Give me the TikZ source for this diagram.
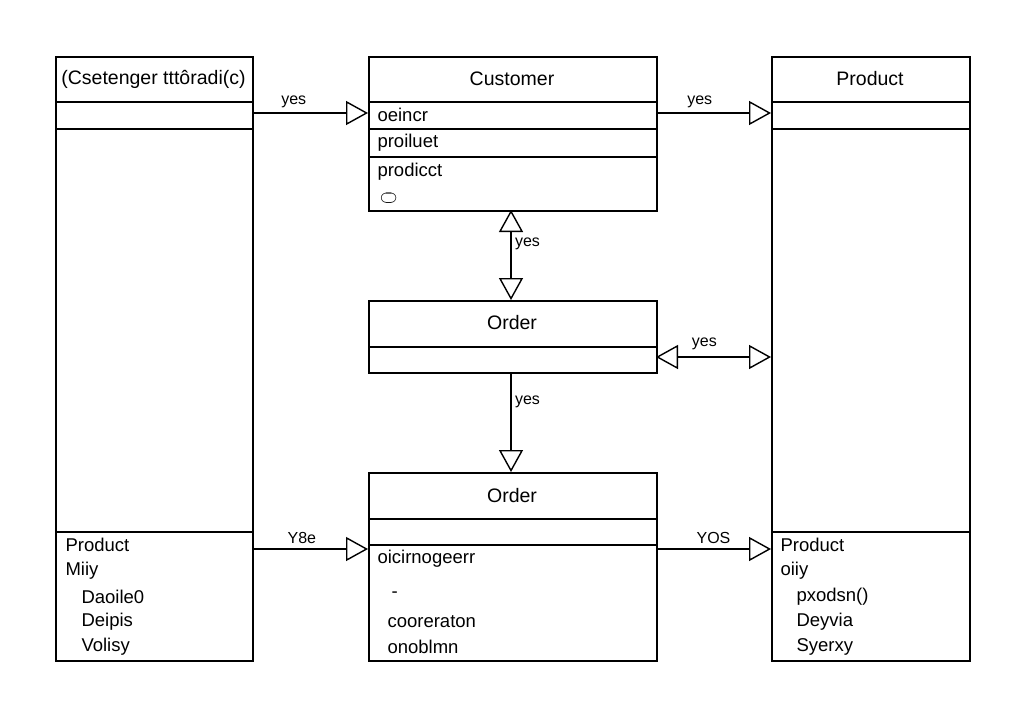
\documentclass[tikz,border=0pt]{standalone}
\usepackage{fontspec}
\setmainfont{Liberation Sans}
\usetikzlibrary{arrows.meta,positioning}

\tikzset{
  box/.style = {draw, line width = 1.6pt, rectangle, inner sep = 0pt},
  sep/.style = {line width = 1.6pt},
  link/.style = {line width = 1.4pt, -{Triangle[open, length = 22pt, width = 24pt, line width = 1.4pt]}},
  dlink/.style = {line width = 1.4pt, {Triangle[open, length = 22pt, width = 24pt, line width = 1.4pt]}-{Triangle[open, length = 22pt, width = 24pt, line width = 1.4pt]}},
  lbl/.style = {font = \fontsize{16}{18}\selectfont},
  ttl/.style = {font = \fontsize{19.5}{22}\selectfont},
  itm/.style = {font = \fontsize{18.5}{20}\selectfont, anchor = west}
}

\begin{document}
\begin{tikzpicture}[x = 1pt, y = -1pt]
\useasboundingbox (0,0) rectangle (1024,716);
% boxes
\node[box, minimum width = 197pt, minimum height = 604pt, anchor = north west] (hist) at (55,56) {};
\node[box, minimum width = 288pt, minimum height = 154pt, anchor = north west] (cust) at (368,56) {};
\node[box, minimum width = 198pt, minimum height = 604pt, anchor = north west] (prod) at (771,56) {};
\node[box, minimum width = 288pt, minimum height = 72pt, anchor = north west] (ord1) at (368,300) {};
\node[box, minimum width = 288pt, minimum height = 188pt, anchor = north west] (ord2) at (368,472) {};
% compartments
\draw[sep] (55,102) -- (252,102) (55,129) -- (252,129) (55,532) -- (252,532);
\draw[sep] (368,102) -- (656,102) (368,129) -- (656,129) (368,157) -- (656,157);
\draw[sep] (771,102) -- (969,102) (771,129) -- (969,129) (771,532) -- (969,532);
\draw[sep] (368,347) -- (656,347);
\draw[sep] (368,519) -- (656,519) (368,545) -- (656,545);
% titles
\node[ttl] (t1) at (153.5,79) {(Csetenger ttt\^oradi(c)};
\node[ttl] (t2) at (512,79) {Customer};
\node[ttl] (t3) at (870,79) {Product};
\node[ttl] (t4) at (512,323) {Order};
\node[ttl] (t5) at (512,496) {Order};
% members
\node[itm] (c1) at (374,115) {oeincr};
\node[itm] (c2) at (374,143) {proiluet};
\node[itm] (c3) at (374,172) {prodicct};
\node[itm, font = \fontsize{16}{16}\selectfont] (c4) at (376,198) {$\subset\!\!\!\supset$};
\node[itm] (h1) at (62,545) {Product};
\node[itm] (h2) at (62,571) {Miiy};
\node[itm] (h3) at (78,597) {Daoile0};
\node[itm] (h4) at (78,622) {Deipis};
\node[itm] (h5) at (78,647) {Volisy};
\node[itm] (o1) at (374,559) {oicirnogeerr};
\node[itm] (o2) at (388,595) {-};
\node[itm] (o3) at (384,622) {cooreraton};
\node[itm] (o4) at (384,647) {onoblmn};
\node[itm] (p1) at (777,545) {Product};
\node[itm] (p2) at (777,571) {oiiy};
\node[itm] (p3) at (793,597) {pxodsn()};
\node[itm] (p4) at (793,622) {Deyvia};
\node[itm] (p5) at (793,647) {Syerxy};
% connector ends
\coordinate (a1) at (252,113); \coordinate (a2) at (368,113);
\coordinate (b1) at (656,113); \coordinate (b2) at (771,113);
\coordinate (c5) at (511,210); \coordinate (c6) at (511,300);
\coordinate (d1) at (656,357); \coordinate (d2) at (771,357);
\coordinate (e1) at (511,372); \coordinate (e2) at (511,472);
\coordinate (f1) at (252,549); \coordinate (f2) at (368,549);
\coordinate (g1) at (656,549); \coordinate (g2) at (771,549);
% connectors
\draw[link] (a1) -- (a2) node[lbl, pos = 0.36, above = 1pt] {yes};
\draw[link] (b1) -- (b2) node[lbl, pos = 0.38, above = 1pt] {yes};
\draw[dlink] (c5) -- (c6) node[lbl, pos = 0.38, right = 0pt] {yes};
\draw[dlink] (d1) -- (d2) node[lbl, pos = 0.42, above = 3pt] {yes};
\draw[link] (e1) -- (e2) node[lbl, pos = 0.3, right = 0pt] {yes};
\draw[link] (f1) -- (f2) node[lbl, pos = 0.43, above = 1pt] {Y8e};
\draw[link] (g1) -- (g2) node[lbl, pos = 0.5, above = 1pt] {YOS};
\end{tikzpicture}
\end{document}
